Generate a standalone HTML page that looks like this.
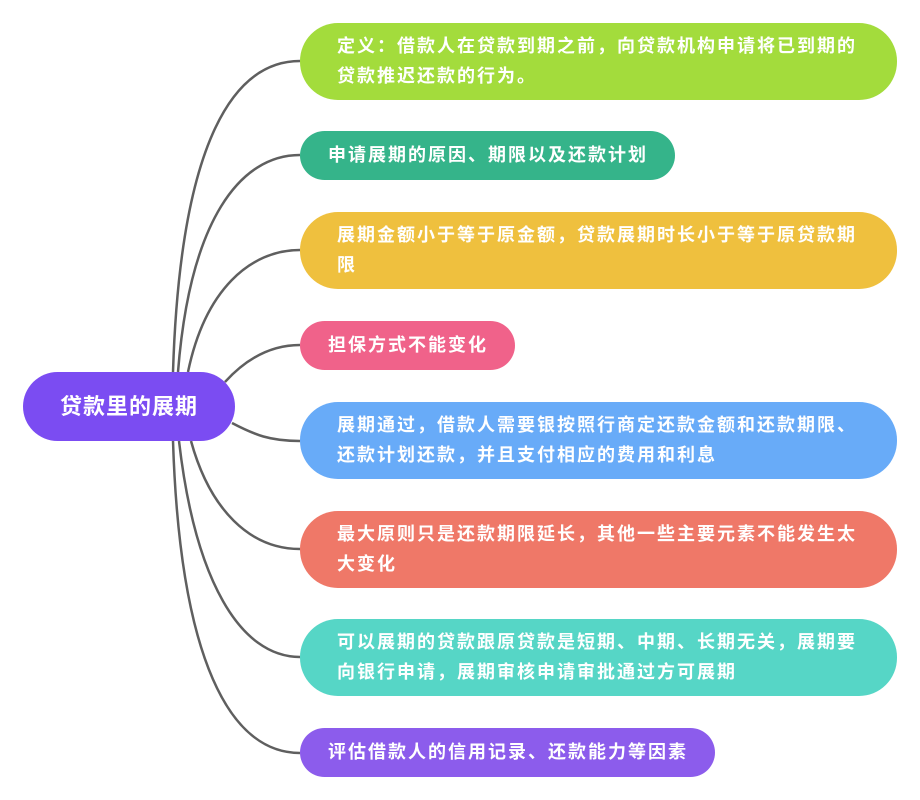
<!DOCTYPE html>
<html><head><meta charset="utf-8"><style>
body{margin:0;width:920px;height:800px;background:#fff;position:relative;overflow:hidden;font-family:"Liberation Sans","Noto Sans CJK SC",sans-serif;}
.n{position:absolute;left:300px;color:#fff;font-weight:bold;font-size:18px;letter-spacing:2px;line-height:30px;box-sizing:border-box;}
.two{width:597px;height:77px;border-radius:38px;padding:8px 20px 0 37px;}
.one{height:49px;border-radius:25px;padding:0 20px 0 28px;line-height:49px;}
</style></head><body>
<svg width="920" height="800" style="position:absolute;left:0;top:0">
<g fill="none" stroke="#5f5f5f" stroke-width="2.5">
<path d="M173,372 C180,150 230,61 300,61"/>
<path d="M178,372 C190,220 240,155 300,155"/>
<path d="M188,372 C205,290 250,250 300,250"/>
<path d="M225,382 C245,360 270,345 300,345"/>
<path d="M232,423 C255,435 270,441 300,441"/>
<path d="M191,441 C210,510 250,549 300,549"/>
<path d="M179,441 C195,580 240,657 300,657"/>
<path d="M173,441 C180,660 230,753 300,753"/>
</g></svg>
<div style="position:absolute;left:23px;top:372px;width:212px;height:69px;border-radius:35px;background:#7b4cf2;color:#fff;font-weight:bold;font-size:22px;line-height:69px;text-align:center;letter-spacing:1px;">贷款里的展期</div>
<div class="n two" style="top:23px;background:#a3dc3c;">定义：借款人在贷款到期之前，向贷款机构申请将已到期的<br>贷款推迟还款的行为。</div>
<div class="n one" style="top:131px;width:375px;background:#35b48a;">申请展期的原因、期限以及还款计划</div>
<div class="n two" style="top:212px;background:#efc03e;">展期金额小于等于原金额，贷款展期时长小于等于原贷款期<br>限</div>
<div class="n one" style="top:321px;width:215px;background:#f0628a;">担保方式不能变化</div>
<div class="n two" style="top:402px;background:#68abf8;">展期通过，借款人需要银按照行商定还款金额和还款期限、<br>还款计划还款，并且支付相应的费用和利息</div>
<div class="n two" style="top:511px;background:#ef7868;">最大原则只是还款期限延长，其他一些主要元素不能发生太<br>大变化</div>
<div class="n two" style="top:619px;background:#56d6c6;">可以展期的贷款跟原贷款是短期、中期、长期无关，展期要<br>向银行申请，展期审核申请审批通过方可展期</div>
<div class="n one" style="top:728px;width:415px;background:#8c5cec;">评估借款人的信用记录、还款能力等因素</div>
</body></html>
